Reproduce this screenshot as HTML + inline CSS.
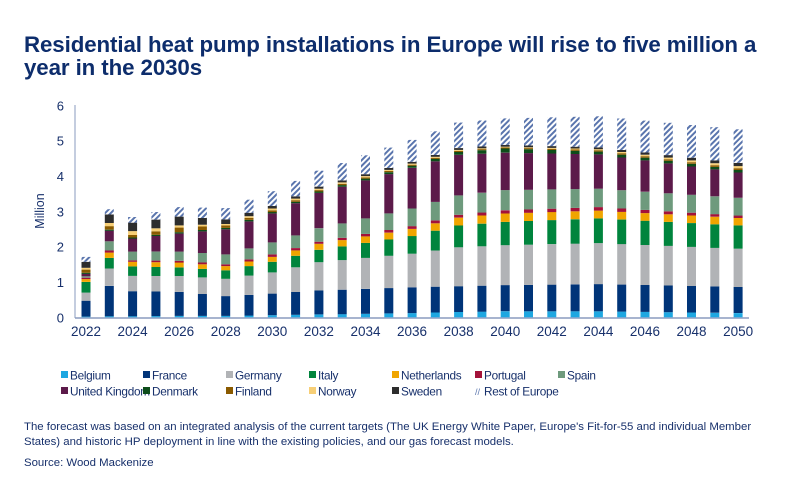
<!DOCTYPE html>
<html><head><meta charset="utf-8"><style>
body{margin:0;background:#fff;width:800px;height:480px;overflow:hidden;font-family:"Liberation Sans",sans-serif;color:#17306b}
.t{position:absolute;left:24px;top:33px;font-size:22.3px;font-weight:bold;color:#0d2d6c;line-height:23px;letter-spacing:-0.1px}
.f{position:absolute;left:24px;font-size:11.4px;color:#17306b;line-height:15px}
</style></head><body>
<div class="t">Residential heat pump installations in Europe will rise to five million a<br>year in the 2030s</div>
<svg id="c" width="800" height="480" style="position:absolute;left:0;top:0"></svg>
<div class="f" style="top:420px">The forecast was based on an integrated analysis of the current targets (The UK Energy White Paper, Europe's Fit-for-55 and individual Member<br>States) and historic HP deployment in line with the existing policies, and our gas forecast models.</div>
<div class="f" style="top:456px">Source: Wood Mackenize</div>
<script>
var cols=["#1ea7e1","#003478","#b1b3b6","#00843d","#f0a500","#a3123a","#6e9a7d","#5c1a4a","#0d4d1a","#8a5a00","#f7cf77","#2d2d2d","url(#h)"];
var names=["Belgium","France","Germany","Italy","Netherlands","Portugal","Spain","United Kingdom","Denmark","Finland","Norway","Sweden","Rest of Europe"];
var key={
2022:[.02,.45,.23,.30,.08,.04,.04,.07,.03,.09,.05,.17,.14],
2023:[.03,.86,.49,.30,.15,.06,.26,.30,.03,.10,.09,.24,.15],
2024:[.03,.71,.43,.27,.13,.04,.25,.37,.03,.07,.11,.24,.16],
2026:[.04,.68,.45,.24,.14,.05,.26,.51,.04,.13,.06,.25,.27],
2028:[.04,.56,.49,.24,.12,.05,.28,.71,.04,.07,.04,.13,.32],
2030:[.06,.61,.60,.30,.14,.07,.34,.82,.04,.05,.05,.07,.42],
2032:[.08,.68,.80,.35,.17,.06,.38,1.0,.04,.04,.04,.06,.45],
2036:[.12,.73,.95,.50,.20,.08,.50,1.15,.06,.03,.03,.05,.62],
2038:[.15,.73,1.10,.62,.22,.08,.55,1.15,.08,.03,.03,.05,.72],
2040:[.17,.74,1.13,.66,.24,.09,.57,1.06,.12,.03,.02,.05,.75],
2044:[.17,.77,1.16,.70,.22,.10,.52,.97,.08,.04,.03,.05,.88],
2050:[.12,.74,1.08,.66,.21,.07,.50,.72,.07,.05,.06,.09,.95]};
var ks=Object.keys(key).map(Number);
function val(y){for(var i=0;i<ks.length-1;i++){if(y>=ks[i]&&y<=ks[i+1]){var a=key[ks[i]],b=key[ks[i+1]],t=(y-ks[i])/(ks[i+1]-ks[i]);return a.map(function(v,j){return v+(b[j]-v)*t});}}}
var s='<defs><pattern id="h" width="4" height="4" patternUnits="userSpaceOnUse" patternTransform="rotate(45)"><rect width="4" height="4" fill="#fff"/><rect width="2" height="4" fill="#5a75ad"/></pattern></defs>';
var y0=317.3,k=35.33,x0=86,dx=23.29,bw=9;
for(var g=0;g<=6;g++){s+='<text x="64" y="'+(y0-g*k+5)+'" font-size="13" fill="#17306b" text-anchor="end" font-family="Liberation Sans">'+g+'</text>';}
s+='<line x1="75" y1="105" x2="75" y2="318" stroke="#8a9bbf" stroke-width="1"/>';
s+='<line x1="75" y1="318" x2="749" y2="318" stroke="#8a9bbf" stroke-width="1.5"/>';
s+='<text transform="translate(44,211) rotate(-90)" font-size="12.5" fill="#17306b" text-anchor="middle" font-family="Liberation Sans">Million</text>';
for(var yr=2022;yr<=2050;yr++){var v=val(yr),cy=y0,x=x0+(yr-2022)*dx-bw/2;
for(var j=0;j<13;j++){var h=v[j]*k;cy-=h;s+='<rect x="'+x.toFixed(1)+'" y="'+cy.toFixed(1)+'" width="'+bw+'" height="'+h.toFixed(1)+'" fill="'+cols[j]+'"/>';}
if(yr%2==0)s+='<text x="'+(x+bw/2)+'" y="336" font-size="13.5" fill="#17306b" text-anchor="middle" font-family="Liberation Sans">'+yr+'</text>';}
var lx=[61,143,226,309,392,475,558];
for(var i=0;i<13;i++){var r=i<7?0:1,c=i<7?i:i-7,X=lx[c],Y=r?391:375;
if(i==12){s+='<text x="'+X+'" y="'+(Y+4)+'" font-size="9" fill="#5a75ad" font-family="Liberation Sans">//</text>';}
else s+='<rect x="'+X+'" y="'+(Y-4)+'" width="7" height="7" fill="'+cols[i]+'"/>';
s+='<text x="'+(X+9)+'" y="'+(Y+4.5)+'" font-size="11.8" letter-spacing="-0.3" fill="#17306b" font-family="Liberation Sans">'+names[i]+'</text>';}
document.getElementById('c').innerHTML=s;
</script>
</body></html>
